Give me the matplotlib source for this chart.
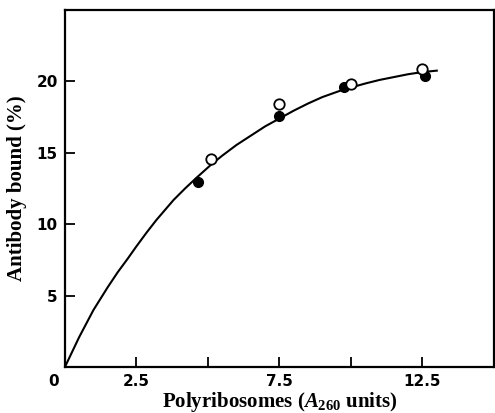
import numpy as np
import matplotlib.pyplot as plt

plt.rcParams['mathtext.fontset'] = 'custom'
plt.rcParams['mathtext.rm'] = 'Liberation Serif:bold'
plt.rcParams['mathtext.it'] = 'Liberation Serif:italic:bold'
plt.rcParams['mathtext.bf'] = 'Liberation Serif:bold'

# data
open_x = [5.1, 7.5, 10.0, 12.5]
open_y = [14.6, 18.4, 19.85, 20.9]
filled_x = [4.65, 7.5, 9.75, 12.6]
filled_y = [12.95, 17.55, 19.6, 20.4]

# fitted curve, traced point by point
curve_x = [0.0, 0.5, 1.0, 1.5, 1.85, 2.2, 2.5, 2.85, 3.2, 3.5, 3.8, 4.2, 4.6, 5.1, 5.5,
           6.0, 6.5, 7.0, 7.5, 8.0, 8.5, 9.0, 9.7, 10.5, 11.0, 11.5, 12.0, 12.5, 13.0]
curve_y = [0.0, 2.1, 4.0, 5.6, 6.65, 7.6, 8.45, 9.4, 10.3, 11.0, 11.7, 12.5, 13.25, 14.15, 14.8,
           15.55, 16.2, 16.85, 17.4, 17.95, 18.45, 18.9, 19.4, 19.85, 20.1, 20.3, 20.5, 20.65, 20.75]

xticks = [2.5, 5, 7.5, 10, 12.5]
xticklabels = ['2.5', '', '7.5', '', '12.5']
yticks = [5, 10, 15, 20]

fig = plt.figure(figsize=(4.95, 4.13), dpi=100)
ax = fig.add_axes([0.131, 0.111, 0.867, 0.865])

ax.plot(curve_x, curve_y, color='black', linewidth=1.5, zorder=2)
ax.plot(filled_x, filled_y, 'o', color='black', markersize=7, zorder=3)
ax.plot(open_x, open_y, 'o', markerfacecolor='white', markeredgecolor='black',
        markeredgewidth=1.3, markersize=7.5, zorder=4)

ax.set_xlim(0, 15)
ax.set_ylim(0, 25)
ax.set_xticks(xticks)
ax.set_xticklabels(xticklabels)
ax.set_yticks(yticks)
ax.set_yticklabels([str(v) for v in yticks])

ax.tick_params(direction='in', length=7, width=1.3, pad=5)
for lab in ax.get_xticklabels() + ax.get_yticklabels():
    lab.set_fontfamily('DejaVu Sans')
    lab.set_fontweight('bold')
    lab.set_fontsize(11)

for side in ['left', 'bottom', 'top', 'right']:
    ax.spines[side].set_linewidth(1.6)

ax.text(-0.4, -0.5, '0', ha='center', va='top', fontsize=11,
        fontweight='bold', family='DejaVu Sans', clip_on=False)

ax.set_xlabel(r'Polyribosomes ($\mathit{A}_{\mathbf{260}}$ units)', fontsize=15,
              family='Liberation Serif', fontweight='bold', labelpad=1)
ax.set_ylabel('Antibody bound (%)', fontsize=15, family='Liberation Serif',
              fontweight='bold', labelpad=7)

fig.savefig('out.png', dpi=100)
